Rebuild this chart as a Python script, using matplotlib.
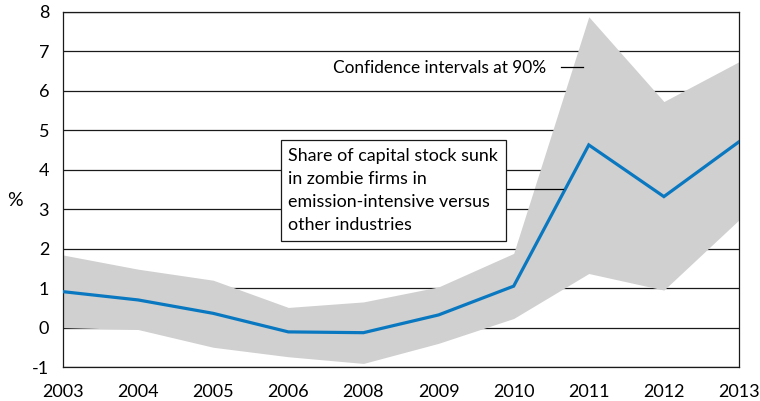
import matplotlib.pyplot as plt
import numpy as np

plt.rcParams['font.family'] = ['Lato', 'DejaVu Sans']

# categories (2007 missing in the source)
years = ['2003', '2004', '2005', '2006', '2008', '2009', '2010', '2011', '2012', '2013']
share = [0.91, 0.70, 0.36, -0.11, -0.13, 0.32, 1.05, 4.63, 3.32, 4.71]
upper = [1.84, 1.48, 1.20, 0.51, 0.65, 1.03, 1.88, 7.88, 5.73, 6.74]
lower = [0.00, -0.05, -0.50, -0.74, -0.91, -0.40, 0.23, 1.37, 0.95, 2.73]
y_ticks = list(range(-1, 9))

fig = plt.figure(figsize=(7.6, 4.01), dpi=100)
ax = fig.add_axes([63 / 760, 1 - 367 / 401, (739 - 63) / 760, (367 - 12) / 401])

x = np.arange(len(years))
ax.fill_between(x, lower, upper, color='#d0d0d0', lw=0, zorder=2)
for t in y_ticks:
    ax.axhline(t, color='#1a1a1a', lw=0.9, zorder=1)
ax.plot(x, share, color='#0a78c0', lw=2.3, zorder=3, solid_joinstyle='miter')

ax.set_xlim(0, len(years) - 1)
ax.set_ylim(-1, 8)
ax.set_xticks(x)
ax.set_xticklabels(years, fontsize=13)
ax.set_yticks(y_ticks)
ax.set_yticklabels([str(t) for t in y_ticks], fontsize=13)
ax.tick_params(length=0, pad=10)
ax.tick_params(axis='x', pad=12)
for s in ax.spines.values():
    s.set_color('#1a1a1a')
    s.set_linewidth(0.9)
fig.text(15 / 760, 1 - 200 / 401, '%', fontsize=14, ha='center', va='center')

# annotations
ax.text(3.59, 6.58, 'Confidence intervals at 90%', fontsize=12.4, va='center', ha='left', zorder=5)
ax.plot([6.63, 6.92], [6.6, 6.6], color='black', lw=0.9, zorder=5)

ax.text(3.0, 3.48,
        'Share of capital stock sunk\nin zombie firms in\nemission-intensive versus\nother industries',
        fontsize=12.9, va='center', ha='left', linespacing=1.55, zorder=5,
        bbox=dict(boxstyle='square,pad=0.42', fc='white', ec='#1a1a1a', lw=0.9))
ax.plot([5.9, 6.66], [3.51, 3.51], color='black', lw=0.9, zorder=4)

fig.savefig('out.png', dpi=100)
